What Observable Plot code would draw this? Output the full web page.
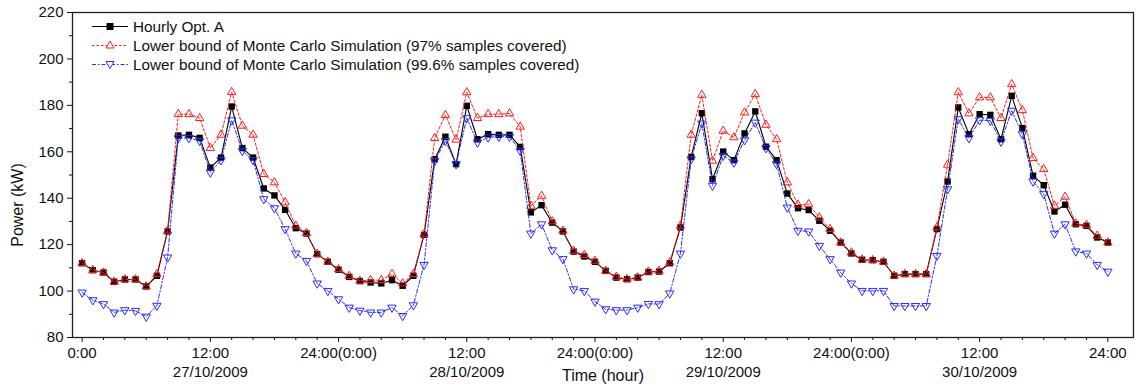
<!DOCTYPE html>
<html>
<head>
<meta charset="utf-8">
<script src="https://cdn.jsdelivr.net/npm/d3@7"></script>
<script src="https://cdn.jsdelivr.net/npm/@observablehq/plot@0.6"></script>
<style>
  body { margin: 0; background: white; }
  #wrap { position: relative; width: 1138px; height: 387px; font-family: "Liberation Sans", Arial, sans-serif; }
  #legend { position: absolute; left: 90px; top: 17px; font-size: 15.3px; color: #111; }
  .row { display: flex; align-items: center; height: 19px; white-space: nowrap; }
  .row svg { margin-right: 3px; }
  #ylabel { position: absolute; left: 18px; top: 205px; transform: translate(-50%, -50%) rotate(-90deg); font-size: 16px; color: #111; white-space: nowrap; }
</style>
</head>
<body>
<div id="wrap">
  <div id="chart"></div>
  <div id="legend"></div>
  <div id="ylabel"></div>
</div>
<script>
// Hour index 0..96 (27/10/2009 0:00 to 31/10/2009 0:00)
const hourlyOptA = [112,109,108,104,105,105,102,106.6,125.7,167,167.3,166,153.2,157.5,179.5,161.6,157.5,144.2,141.2,135,127.1,124.8,115.9,112.6,
  109.2,106.1,104.3,103.7,103.3,104.7,102.3,106.6,124.2,156.8,166.5,154.7,179.8,165.4,167.6,167.3,167.3,162.1,133.9,137,129.5,125.7,117,114.9,
  112.6,108.7,105.8,105.1,105.8,108.2,108.4,112,127.4,157.8,176.6,148.2,160.1,156.4,167.9,177.4,162.2,156.4,142,135.7,134.9,130.3,126,120.9,
  116.2,113.5,113.3,112.6,106.6,107.3,107.3,107.3,126.7,147.2,179.1,167.6,176.2,175.9,165.4,184.1,170.2,149.7,145.6,134.3,137.2,128.8,128.1,123.1,
  120.9];
const lowerMC97 = [112,109,108,104,105,105,102,107.3,126,176.2,176.2,174.5,161.6,167.3,185.7,171.2,167.3,150.4,146.8,138.2,128.1,125,116,112.6,
  109.4,106.5,104.4,104.7,104.7,107.3,103.3,107.3,124.5,165.9,175.8,165.2,185.6,174.5,176.2,176.2,176.5,170.8,136.7,141,130,126,117.3,115.5,
  113,108.7,106.1,105.1,105.8,108.4,108.7,112.3,128.1,167.3,184.5,156.1,169,166.2,176.9,184.8,171.6,165.4,146.8,137.2,137.4,131.7,126.7,120.9,
  116.6,113.5,113.3,112.6,106.6,107.3,107.3,107.3,127.4,154.4,185.6,176.5,183.4,183.4,174.5,189.1,177.9,157.3,152.5,136.7,140.6,129.1,128.4,123.8,
  120.9];
const lowerMC996 = [99.4,96.1,94.4,90.8,91.8,91.5,89,93.7,114.5,165.9,165.9,164.7,151.1,156.4,173.6,160.4,156.4,139.6,135.7,126.7,116.2,113,103.3,100.1,
  96.5,92.9,91.6,90.8,90.8,92.9,89.3,93.9,111.3,156.1,164.7,154.7,174.5,164,166.2,166.5,166.5,160.4,124.8,128.8,117.6,113.8,100.8,100.1,
  95.5,92.2,91.8,91.8,92.9,94.5,94.4,99,116.2,156.8,172.2,145.4,158.3,155.4,165,172.6,161.6,154.7,136,126,125.7,119.5,113.8,108,
  103.3,100.1,100.1,100.1,93.6,93.6,93.6,93.6,115.2,143.9,174.1,165.9,173.6,173.4,164.4,177.7,167.6,147.2,141.8,124.8,128.8,117.1,116.2,111.3,
  108.4];

const seriesNames = ["Hourly Opt. A",
  "Lower bound of Monte Carlo Simulation (97% samples covered)",
  "Lower bound of Monte Carlo Simulation (99.6% samples covered)"];

const xTicks = [0, 12, 24, 36, 48, 60, 72, 84, 96];
const xTickLabels = ["0:00", "12:00", "24:00(0:00)", "12:00", "24:00(0:00)", "12:00", "24:00(0:00)", "12:00", "24:00"];
const dateTicks = [12, 36, 60, 84];
const dateLabels = ["27/10/2009", "28/10/2009", "29/10/2009", "30/10/2009"];
const yTicks = [80, 100, 120, 140, 160, 180, 200, 220];
const yMinorTicks = [90, 110, 130, 150, 170, 190, 210];
const xMinorTicks = d3.range(0, 97, 2).filter(h => h % 12 !== 0);
const xTitle = "Time (hour)";
const yTitle = "Power (kW)";

const data = hourlyOptA.map((a, i) => ({h: i, a, r: lowerMC97[i], b: lowerMC996[i]}));

const RED = "#ff1a1a", BLUE = "#2a2aff";

const chart = Plot.plot({
  width: 1138,
  height: 387,
  marginTop: 12,
  marginBottom: 50,
  marginLeft: 72,
  marginRight: 5,
  x: {domain: [-0.9, 98.4]},
  y: {domain: [80, 220]},
  style: {fontFamily: "Liberation Sans, Arial, sans-serif", fontSize: "15px", color: "#111", background: "white"},
  marks: [
    Plot.axisX(xMinorTicks, {tickSize: 3, tickFormat: () => "", label: null}),
    Plot.axisX(xTicks, {tickSize: 5, tickPadding: 5, tickFormat: d => xTickLabels[xTicks.indexOf(d)], label: null}),
    Plot.axisX(dateTicks, {tickSize: 0, tickPadding: 29, tickFormat: d => dateLabels[dateTicks.indexOf(d)], label: null}),
    Plot.axisY(yMinorTicks, {tickSize: 3, tickFormat: () => "", label: null}),
    Plot.axisY(yTicks, {tickSize: 5, tickPadding: 4, label: null}),
    Plot.line(data, {x: "h", y: "a", stroke: "black", strokeWidth: 1.1}),
    Plot.dot(data, {x: "h", y: "a", symbol: "square", fill: "black", r: 3.6}),
    Plot.line(data, {x: "h", y: "r", stroke: RED, strokeWidth: 1, strokeDasharray: "2.5,2"}),
    Plot.dot(data, {x: "h", y: "r", symbol: "triangle", stroke: RED, fill: "none", r: 3.1, strokeWidth: 1}),
    Plot.line(data, {x: "h", y: "b", stroke: BLUE, strokeWidth: 1, strokeDasharray: "4,2,1.5,2"}),
    Plot.dot(data, {x: "h", y: "b", symbol: "triangle", rotate: 180, stroke: BLUE, fill: "none", r: 3.1, strokeWidth: 1}),
    Plot.frame({stroke: "#222", strokeWidth: 1.3}),
    Plot.text([xTitle], {frameAnchor: "bottom", dy: 38, fontSize: 16, lineAnchor: "middle"})
  ]
});
document.getElementById("chart").appendChild(chart);
document.getElementById("ylabel").textContent = yTitle;

// Legend
const legendDefs = [
  {name: seriesNames[0], color: "black", dash: null, marker: "square"},
  {name: seriesNames[1], color: RED, dash: "2.5,2", marker: "up"},
  {name: seriesNames[2], color: BLUE, dash: "4,2,1.5,2", marker: "down"}
];
const legend = document.getElementById("legend");
for (const d of legendDefs) {
  const row = document.createElement("div");
  row.className = "row";
  let m;
  if (d.marker === "square") m = `<rect x="16.5" y="6" width="7" height="7" fill="black"/>`;
  else if (d.marker === "up") m = `<path d="M20,5 L24,12 L16,12 Z" fill="white" stroke="${d.color}" stroke-width="1"/>`;
  else m = `<path d="M20,13.5 L24,6.5 L16,6.5 Z" fill="white" stroke="${d.color}" stroke-width="1"/>`;
  row.innerHTML = `<svg width="40" height="19"><line x1="2" x2="38" y1="9.5" y2="9.5" stroke="${d.color}" stroke-width="1" ${d.dash ? `stroke-dasharray="${d.dash}"` : ""}/>${m}</svg><span>${d.name}</span>`;
  legend.appendChild(row);
}
</script>
</body>
</html>
